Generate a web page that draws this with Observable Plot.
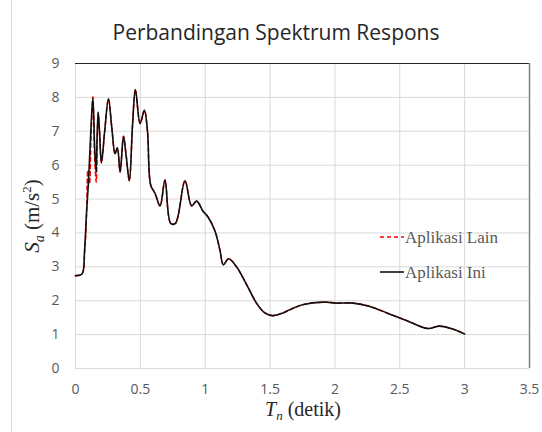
<!DOCTYPE html>
<html><head><meta charset="utf-8">
<script src="https://cdn.jsdelivr.net/npm/d3@7"></script>
<script src="https://cdn.jsdelivr.net/npm/@observablehq/plot@0.6"></script>
<style>
body{margin:0;background:#fff}
#chart{position:relative;width:542px;height:432px;overflow:hidden}
#edge{position:absolute;left:11px;top:0;width:1px;height:432px;background:#d9d9d9}
</style>
</head><body><div id="chart"><div id="edge"></div></div>
<script>
// Period T (s) and spectral acceleration Sa (m/s^2)
const iniT = [0, 0.05, 0.07, 0.085, 0.10, 0.118, 0.134, 0.147, 0.159, 0.167, 0.175, 0.185, 0.2, 0.225, 0.254, 0.28, 0.305, 0.323, 0.344, 0.37, 0.39, 0.415, 0.44, 0.462, 0.498, 0.531, 0.555, 0.58, 0.613, 0.652, 0.69, 0.734, 0.77, 0.844, 0.895, 0.934, 0.985, 1.02, 1.075, 1.113, 1.14, 1.18, 1.24, 1.32, 1.395, 1.46, 1.52, 1.60, 1.65, 1.75, 1.91, 2.01, 2.14, 2.27, 2.40, 2.55, 2.715, 2.805, 2.895, 3.0];
const iniS = [2.74, 2.79, 3.5, 4.6, 5.5, 7.0, 7.98, 6.6, 5.78, 6.9, 7.57, 7.0, 6.07, 7.0, 7.96, 7.1, 6.34, 6.51, 5.80, 6.85, 6.3, 5.54, 7.2, 8.23, 7.23, 7.62, 7.0, 5.41, 5.17, 4.80, 5.56, 4.28, 4.28, 5.54, 4.80, 4.94, 4.63, 4.48, 4.06, 3.5, 3.06, 3.24, 3.01, 2.47, 1.93, 1.64, 1.56, 1.64, 1.73, 1.88, 1.96, 1.93, 1.93, 1.83, 1.64, 1.42, 1.18, 1.25, 1.18, 1.02];
const lainT = [0, 0.05, 0.07, 0.085, 0.095, 0.108, 0.12, 0.134, 0.147, 0.16, 0.168, 0.175, 0.185, 0.2, 0.225, 0.254, 0.28, 0.305, 0.323, 0.344, 0.37, 0.39, 0.415, 0.44, 0.462, 0.498, 0.531, 0.555, 0.58, 0.613, 0.652, 0.69, 0.734, 0.77, 0.844, 0.895, 0.934, 0.985, 1.02, 1.075, 1.113, 1.14, 1.18, 1.24, 1.32, 1.395, 1.46, 1.52, 1.60, 1.65, 1.75, 1.91, 2.01, 2.14, 2.27, 2.40, 2.55, 2.715, 2.805, 2.895, 3.0];
const lainS = [2.74, 2.79, 3.4, 4.5, 5.85, 5.45, 6.9, 8.02, 6.3, 5.5, 6.8, 7.55, 7.0, 6.07, 7.0, 7.96, 7.1, 6.34, 6.51, 5.80, 6.85, 6.3, 5.54, 7.2, 8.23, 7.23, 7.62, 7.0, 5.41, 5.17, 4.80, 5.56, 4.28, 4.28, 5.54, 4.80, 4.94, 4.63, 4.48, 4.06, 3.5, 3.06, 3.24, 3.01, 2.47, 1.93, 1.64, 1.56, 1.64, 1.73, 1.88, 1.96, 1.93, 1.93, 1.83, 1.64, 1.42, 1.18, 1.25, 1.18, 1.02];

const xTicks = [0, 0.5, 1, 1.5, 2, 2.5, 3, 3.5];
const xTickLabels = ["0", "0.5", "1", "1.5", "2", "2.5", "3", "3.5"];
const yTicks = [0, 1, 2, 3, 4, 5, 6, 7, 8, 9];
const seriesNames = ["Aplikasi Lain", "Aplikasi Ini"];
const titleText = "Perbandingan Spektrum Respons";

const ini = iniT.map((t, i) => ({T: t, S: iniS[i]}));
const lain = lainT.map((t, i) => ({T: t, S: lainS[i]}));

const plot = Plot.plot({
  width: 542, height: 432,
  marginLeft: 75, marginRight: 13, marginTop: 63, marginBottom: 64,
  style: {fontFamily: "'Open Sans', sans-serif", fontSize: "14px", color: "#595959", background: "transparent", overflow: "visible"},
  x: {domain: [0, 3.5]},
  y: {domain: [0, 9]},
  marks: [
    Plot.gridX(xTicks, {stroke: "#d9d9d9", strokeOpacity: 1}),
    Plot.gridY(yTicks, {stroke: "#d9d9d9", strokeOpacity: 1}),
    Plot.axisX(xTicks, {tickSize: 0, tickPadding: 16, label: null, tickFormat: (d, i) => xTickLabels[i], fill: "#595959"}),
    Plot.axisY(yTicks, {tickSize: 0, tickPadding: 16, label: null, fill: "#595959"}),
    Plot.ruleY([9], {stroke: "#262626", strokeWidth: 1.2}),
    Plot.ruleX([3.5], {stroke: "#7f7f7f", strokeWidth: 1.5}),
    Plot.line(lain, {x: "T", y: "S", stroke: "#ff0000", strokeWidth: 1.5, strokeDasharray: "4,3", curve: "catmull-rom"}),
    Plot.line(ini, {x: "T", y: "S", stroke: "#111", strokeWidth: 1.6, curve: "catmull-rom"})
  ]
});
document.getElementById("chart").appendChild(plot);
plot.style.position = "absolute"; plot.style.left = "0"; plot.style.top = "0";

const svg = d3.select(plot);
// Title
svg.append("text").attr("x", 276).attr("y", 40).attr("text-anchor", "middle")
  .attr("font-family", "'Open Sans', sans-serif").attr("font-size", 21).attr("fill", "#262626")
  .text(titleText);

// X label: T_n (detik)
const xl = svg.append("text").attr("x", 303).attr("y", 416).attr("text-anchor", "middle")
  .attr("font-family", "'Liberation Serif', 'Times New Roman', serif").attr("font-size", 20).attr("fill", "#262626");
xl.append("tspan").attr("font-style", "italic").text("T");
xl.append("tspan").attr("font-style", "italic").attr("font-size", 13).attr("dy", 4).text("n");
xl.append("tspan").attr("dy", -4).text(" (detik)");

// Y label: S_a (m/s²)
const yl = svg.append("text").attr("transform", "translate(39,216) rotate(-90)").attr("text-anchor", "middle")
  .attr("font-family", "'Liberation Serif', 'Times New Roman', serif").attr("font-size", 21).attr("fill", "#262626");
yl.append("tspan").attr("font-style", "italic").text("S");
yl.append("tspan").attr("font-style", "italic").attr("font-size", 14).attr("dy", 5).text("a");
yl.append("tspan").attr("dy", -5).text(" (m/s");
yl.append("tspan").attr("font-size", 13).attr("dy", -8).text("2");
yl.append("tspan").attr("dy", 8).text(")");

// Legend
const leg = [{name: seriesNames[0], y: 237, stroke: "#ff0000", dash: "4,3"}, {name: seriesNames[1], y: 272, stroke: "#111", dash: null}];
leg.forEach(d => {
  const l = svg.append("line").attr("x1", 380).attr("x2", 404).attr("y1", d.y).attr("y2", d.y)
    .attr("stroke", d.stroke).attr("stroke-width", 1.6);
  if (d.dash) l.attr("stroke-dasharray", d.dash);
  svg.append("text").attr("x", 405).attr("y", d.y + 6).attr("text-anchor", "start")
    .attr("font-family", "'Liberation Serif', 'Times New Roman', serif").attr("font-size", 17).attr("fill", "#595959")
    .text(d.name);
});
</script></body></html>
